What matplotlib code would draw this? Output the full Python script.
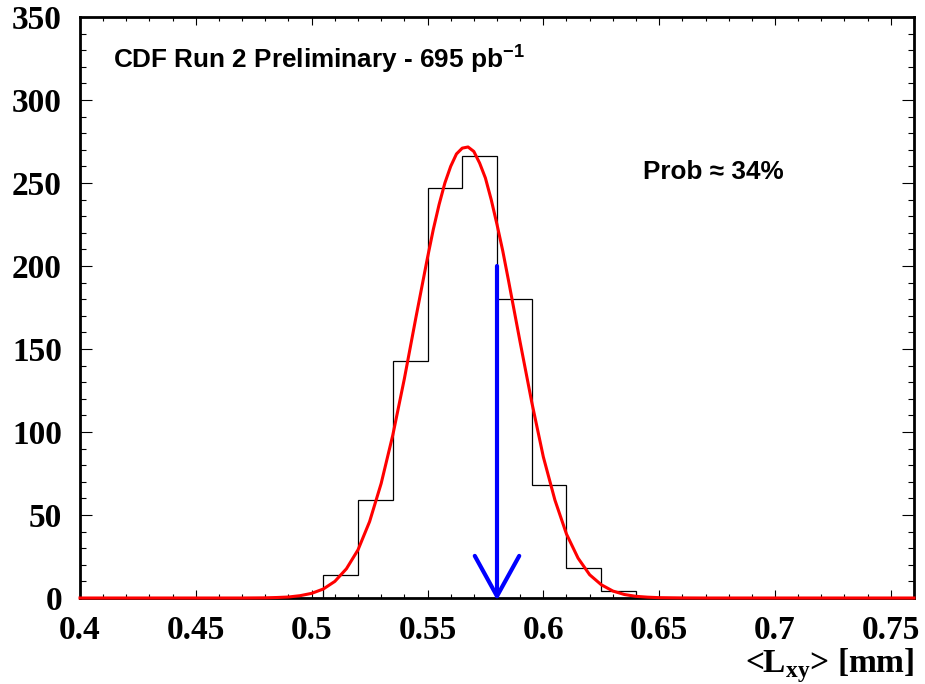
import matplotlib
matplotlib.use("Agg")
import matplotlib.pyplot as plt
from matplotlib.ticker import MultipleLocator, FixedLocator, FixedFormatter
import numpy as np

# histogram of pseudo-experiments (24 bins of 0.015 from 0.4 to 0.76)
bin_edges = [0.400, 0.415, 0.430, 0.445, 0.460, 0.475, 0.490, 0.505,
             0.520, 0.535, 0.550, 0.565, 0.580, 0.595, 0.610, 0.625,
             0.640, 0.655, 0.670, 0.685, 0.700, 0.715, 0.730, 0.745, 0.760]
bin_counts = [0, 0, 0, 0, 0, 0, 0, 14,
              59, 143, 247, 266, 180, 68, 18, 4,
              0, 0, 0, 0, 0, 0, 0, 0]

# fitted curve
fit_x = [0.400, 0.470, 0.480, 0.485, 0.490, 0.495, 0.500, 0.505, 0.510,
         0.515, 0.520, 0.525, 0.530, 0.535, 0.540, 0.545, 0.550, 0.5525,
         0.555, 0.5575, 0.560, 0.5625, 0.565, 0.5675, 0.570, 0.5725,
         0.575, 0.5775, 0.580, 0.5825, 0.585, 0.590, 0.595, 0.600,
         0.605, 0.610, 0.615, 0.620, 0.625, 0.630, 0.635, 0.640, 0.645,
         0.650, 0.660, 0.670, 0.760]
fit_y = [0.0, 0.0, 0.1, 0.3, 0.6, 1.4, 2.8, 5.4, 10.0,
         17.6, 29, 46, 69, 98, 132, 169, 205, 222,
         237, 250, 260, 267.5, 271, 271.7, 269, 262,
         253, 240, 225, 209, 191, 154, 118, 85,
         59, 38.5, 24, 14, 8, 4.2, 2.1, 1.0, 0.5,
         0.2, 0.05, 0.0, 0.0]

# measured value (arrow)
meas_x = 0.58
meas_top = 200

xticks = [0.4, 0.45, 0.5, 0.55, 0.6, 0.65, 0.7, 0.75]
xtick_labels = ["0.4", "0.45", "0.5", "0.55", "0.6", "0.65", "0.7", "0.75"]
yticks = [0, 50, 100, 150, 200, 250, 300, 350]

plt.rcParams['mathtext.fontset'] = 'custom'
plt.rcParams['mathtext.bf'] = 'Liberation Serif:bold'
plt.rcParams['mathtext.sf'] = 'Liberation Sans:bold'

fig = plt.figure(figsize=(9.25, 6.84), dpi=100)
ax = fig.add_axes([80/925, 1-598/684, 834/925, 581/684])

ax.stairs(bin_counts, bin_edges, color='black', linewidth=0.9, zorder=2)
ax.plot(fit_x, fit_y, color='#ff0000', linewidth=2.2, zorder=4, clip_on=False)

ax.annotate('', xy=(meas_x, -1.5), xytext=(meas_x, meas_top),
            arrowprops=dict(arrowstyle='->, head_length=2.9, head_width=1.6',
                            mutation_scale=10, color='#0000ff', lw=3,
                            shrinkA=0, shrinkB=0),
            annotation_clip=False, zorder=5)

ax.set_xlim(0.4, 0.76)
ax.set_ylim(0, 350)

for s in ax.spines.values():
    s.set_linewidth(2.0)

ax.xaxis.set_major_locator(FixedLocator(xticks))
ax.xaxis.set_major_formatter(FixedFormatter(xtick_labels))
ax.xaxis.set_minor_locator(MultipleLocator(0.01))
ax.yaxis.set_major_locator(FixedLocator(yticks))
ax.yaxis.set_minor_locator(MultipleLocator(10))

ax.tick_params(axis='both', which='both', direction='in', top=True, right=True, width=0.8)
ax.tick_params(axis='x', which='major', length=5.8, pad=12)
ax.tick_params(axis='x', which='minor', length=3)
ax.tick_params(axis='y', which='major', length=8.6, pad=13)
ax.tick_params(axis='y', which='minor', length=4.3)

for lab in ax.get_xticklabels() + ax.get_yticklabels():
    lab.set_family('Liberation Serif')
    lab.set_weight('bold')
    lab.set_fontsize(24)

fig.text(914/925, 12/684, r"<L$_{\mathbf{xy}}$> [mm]", ha='right', va='baseline',
         family='Liberation Serif', weight='bold', fontsize=24)

ax.text(0.040, 0.928, r"CDF Run 2 Preliminary - 695 pb$^{\mathsf{-1}}$",
        transform=ax.transAxes, ha='left', va='center',
        family='Liberation Sans', weight='bold', fontsize=18.8)
ax.text(0.675, 0.733, "Prob \u2248 34%", transform=ax.transAxes,
        ha='left', va='center', family='Liberation Sans', weight='bold', fontsize=18.8)

fig.savefig("out.png", dpi=100)
